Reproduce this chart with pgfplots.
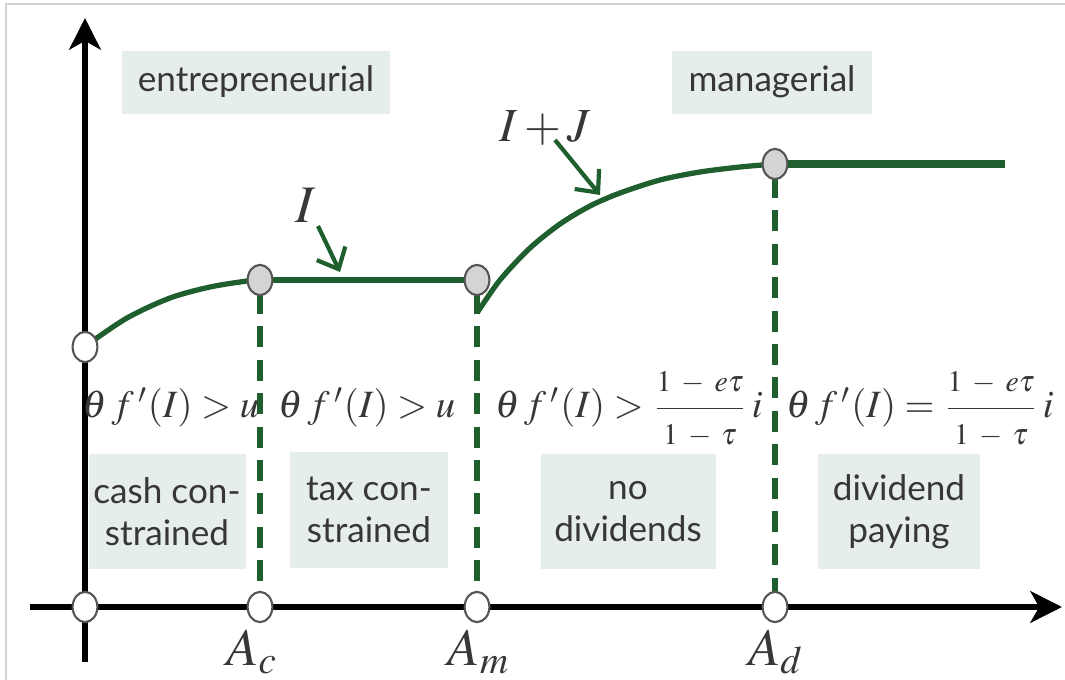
\documentclass[border=0pt]{standalone}
\usepackage{mathptmx}
\usepackage[no-math]{fontspec}
\setmainfont{Lato}
\usepackage{pgfplots}
\pgfplotsset{compat=1.18}
\usetikzlibrary{arrows.meta}

\definecolor{dgreen}{RGB}{30,95,45}
\definecolor{boxfill}{RGB}{230,238,235}
\definecolor{txt}{RGB}{55,55,55}
\definecolor{ring}{RGB}{85,85,85}
\definecolor{dot}{RGB}{212,212,212}

% fraction in the MathType look: smaller parts, wide minus
\newcommand{\frpart}[1]{\mbox{\fontsize{8.5}{10}\selectfont$\medmuskip=6mu #1$}}
\newcommand{\ratio}{\displaystyle\frac{\frpart{1-e\tau}}{\frpart{1-\tau}}}

\begin{document}
\begin{tikzpicture}[
  lbl/.style={fill=boxfill, text=txt, align=center, inner sep=0pt,
    font=\fontsize{10}{12}\selectfont},
  mth/.style={text=txt, inner sep=0pt, anchor=base, font=\fontsize{11}{13}\selectfont},
  big/.style={text=txt, font=\fontsize{15}{17}\selectfont},
]
\begin{axis}[
  width=10.65cm, height=6.8cm, scale only axis,
  xmin=0, xmax=1065, ymin=0, ymax=680, y dir=reverse,
  hide axis, clip=false,
]
\coordinate (bl) at (axis cs:0,680);
\coordinate (tr) at (axis cs:1065,0);
% slide frame
\addplot[gray!35, line width=0.8pt] coordinates {(6,680) (6,4) (1065,4)};

% region labels
\node[lbl, minimum width=2.68cm, minimum height=0.63cm] at (axis cs:256,82) {entrepreneurial};
\node[lbl, minimum width=2.0cm, minimum height=0.63cm] at (axis cs:772,82) {managerial};
\node[lbl, minimum width=1.57cm, minimum height=1.15cm] at (axis cs:167,512) {cash con-\\strained};
\node[lbl, minimum width=1.58cm, minimum height=1.16cm] at (axis cs:369,510) {tax con-\\strained};
\node[lbl, minimum width=1.75cm, minimum height=1.15cm] at (axis cs:628,512) {no\\dividends};
\node[lbl, minimum width=1.62cm, minimum height=1.15cm] at (axis cs:899,512) {dividend\\paying};

% axes
\addplot[black, line width=1.5pt, -{Stealth[length=9pt, width=9pt, inset=2.5pt]}]
  coordinates {(85,662) (85,18)};
\addplot[black, line width=1.5pt, -{Stealth[length=9pt, width=9pt, inset=2.5pt]}]
  coordinates {(30,607) (1062,607)};

% thresholds
\addplot[dgreen, line width=1.5pt, dash pattern=on 6pt off 3.5pt] coordinates {(260,293) (260,596)};
\addplot[dgreen, line width=1.5pt, dash pattern=on 6pt off 3.5pt] coordinates {(477,293) (477,596)};
\addplot[dgreen, line width=1.5pt, dash pattern=on 6pt off 3.5pt] coordinates {(775,177) (775,596)};

% investment schedule
\addplot[dgreen, line width=1.5pt, smooth] coordinates {
  (87,345) (127,318) (170,298) (210,287) (247,281) (260,280)};
\addplot[dgreen, line width=1.5pt] coordinates {(260,280) (477,280)};
\addplot[dgreen, line width=1.5pt] coordinates {(477,298) (477,313)};
\addplot[dgreen, line width=1.5pt, smooth] coordinates {
  (477,313) (500,280) (530,248) (560,224) (590,206) (620,193) (660,180) (700,172) (740,167) (775,164)};
\addplot[dgreen, line width=2pt] coordinates {(775,164) (1005,164)};

% pointers
\addplot[dgreen, line width=1.2pt, -{Straight Barb[length=5pt, width=9pt]}]
  coordinates {(318,226) (340,272)};
\addplot[dgreen, line width=1.2pt, -{Straight Barb[length=5pt, width=9pt]}]
  coordinates {(555,140) (600,195)};
\node[big] at (axis cs:306,205) {$I$};
\node[text=txt, font=\fontsize{13.5}{16}\selectfont] at (axis cs:545,128) {$I+J$};

% points
\addplot[only marks, mark=*, mark size=4.3pt,
  mark options={xscale=0.82, fill=white, draw=ring, line width=0.6pt}]
  coordinates {(85,607) (260,607) (477,607) (775,607) (85,347)};
\addplot[only marks, mark=*, mark size=4.3pt,
  mark options={xscale=0.82, fill=dot, draw=ring, line width=0.6pt}]
  coordinates {(260,280) (477,280) (775,164)};

% conditions
\node[mth] at (axis cs:171,418) {$\theta\, f\,'(I) > u$};
\node[mth] at (axis cs:367,418) {$\theta\, f\,'(I) > u$};
\node[mth] at (axis cs:629,418) {$\theta\, f\,'(I) > \ratio\, i$};
\node[mth] at (axis cs:920,418) {$\theta\, f\,'(I) = \ratio\, i$};

% thresholds on the axis
\node[big] at (axis cs:252,652) {$A_c$};
\node[big] at (axis cs:479,652) {$A_m$};
\node[big] at (axis cs:776,652) {$A_d$};
\end{axis}
\pgfresetboundingbox
\path[use as bounding box] (bl) rectangle (tr);
\end{tikzpicture}
\end{document}
